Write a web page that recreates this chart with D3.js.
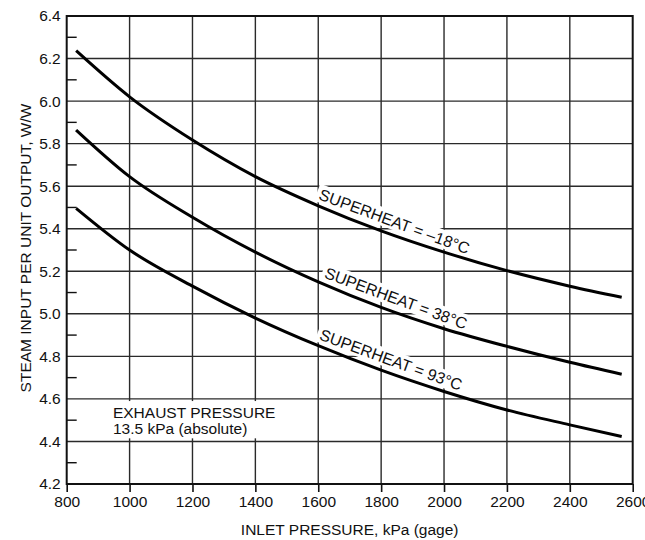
<!DOCTYPE html>
<html>
<head>
<meta charset="utf-8">
<script src="https://cdn.jsdelivr.net/npm/d3@7"></script>
<style>
  body { margin: 0; background: #fff; }
  text { font-family: "Liberation Sans", Arial, sans-serif; fill: #111; }
  .grid line { stroke: #2a2a2a; stroke-width: 1.4; }
  .curve { fill: none; stroke: #000; stroke-width: 3; }
  .axis path, .axis line { stroke: #111; }
</style>
</head>
<body>
<div class="visHolder"></div>
<script>
// inlet pressure, kPa (gage)
const pressure = [830, 1000, 1200, 1400, 1600, 1800, 2000, 2200, 2400, 2565];
// steam input per unit output, W/W
const superheatM18 = [6.237, 6.02, 5.817, 5.645, 5.508, 5.39, 5.29, 5.203, 5.13, 5.078];
const superheat38  = [5.864, 5.645, 5.454, 5.29, 5.15, 5.03, 4.93, 4.847, 4.772, 4.716];
const superheat93  = [5.496, 5.30, 5.13, 4.98, 4.85, 4.735, 4.635, 4.548, 4.478, 4.423];
const seriesLabels = ["SUPERHEAT = \u201318\u00b0C", "SUPERHEAT = 38\u00b0C", "SUPERHEAT = 93\u00b0C"];
const xTicks = [800, 1000, 1200, 1400, 1600, 1800, 2000, 2200, 2400, 2600];
const yTicks = [4.2, 4.4, 4.6, 4.8, 5.0, 5.2, 5.4, 5.6, 5.8, 6.0, 6.2, 6.4];
const yMinorTicks = [4.3, 4.5, 4.7, 4.9, 5.1, 5.3, 5.5, 5.7, 5.9, 6.1, 6.3];

var margin = {top: 16, right: 12.3, bottom: 56, left: 66.7};
var width = 645 - margin.left - margin.right,
    height = 540 - margin.top - margin.bottom;

var svg = d3.select(".visHolder")
  .append("svg")
  .attr("width", 645)
  .attr("height", 540);

var g = svg.append("g")
  .attr("transform", "translate(" + margin.left + "," + margin.top + ")");

var x = d3.scaleLinear().domain([800, 2600]).range([0, width]);
var y = d3.scaleLinear().domain([4.2, 6.4]).range([height, 0]);

// grid
var grid = g.append("g").attr("class", "grid");
grid.selectAll(".vx")
  .data(xTicks.slice(1, -1))
  .enter().append("line")
  .attr("x1", d => x(d)).attr("x2", d => x(d))
  .attr("y1", 0).attr("y2", height);
grid.selectAll(".hy")
  .data(yTicks.slice(1, -1))
  .enter().append("line")
  .attr("x1", 0).attr("x2", width)
  .attr("y1", d => y(d)).attr("y2", d => y(d));

// minor ticks on the left axis
g.selectAll(".minor")
  .data(yMinorTicks)
  .enter().append("line")
  .attr("x1", 0).attr("x2", 10)
  .attr("y1", d => y(d)).attr("y2", d => y(d))
  .attr("stroke", "#111")
  .attr("stroke-width", 1.4);

// x axis
var xAxis = d3.axisBottom(x).tickValues(xTicks).tickSize(8).tickPadding(4)
  .tickSizeOuter(0).tickFormat(d3.format("d"));
var gx = g.append("g")
  .attr("class", "axis")
  .attr("transform", "translate(0," + height + ")")
  .call(xAxis);
gx.select(".domain").remove();
gx.selectAll("line").attr("stroke-width", 1.6);
gx.selectAll("text").style("font-size", "15.5px").attr("fill", "#111");

// y axis
var yAxis = d3.axisLeft(y).tickValues(yTicks).tickSize(0).tickPadding(6).tickFormat(d3.format(".1f"));
var gy = g.append("g")
  .attr("class", "axis")
  .call(yAxis);
gy.select(".domain").remove();
gy.selectAll("text").style("font-size", "15.5px").attr("fill", "#111");

// note (white box hides the grid behind it)
var noteG = g.append("g");
var note = noteG.append("text")
  .attr("x", x(947))
  .attr("y", y(4.51))
  .style("font-size", "15.5px");
note.append("tspan").text("EXHAUST PRESSURE");
note.append("tspan")
  .attr("x", x(947))
  .attr("dy", "1.05em")
  .text("13.5 kPa (absolute)");
var nb = note.node().getBBox();
noteG.insert("rect", "text")
  .attr("x", nb.x - 3)
  .attr("y", nb.y - 3)
  .attr("width", nb.width + 6)
  .attr("height", nb.height + 4)
  .attr("fill", "#fff");

// frame
g.append("rect")
  .attr("width", width)
  .attr("height", height)
  .attr("fill", "none")
  .attr("stroke", "#111")
  .attr("stroke-width", 2);

// curves
var series = [superheatM18, superheat38, superheat93];
var line = d3.line()
  .x(d => x(d[0]))
  .y(d => y(d[1]))
  .curve(d3.curveMonotoneX);

function valueAt(vals, p) {
  var i = d3.bisectLeft(pressure, p);
  if (i <= 0) return vals[0];
  if (i >= pressure.length) return vals[vals.length - 1];
  var t = (p - pressure[i - 1]) / (pressure[i] - pressure[i - 1]);
  return vals[i - 1] + t * (vals[i] - vals[i - 1]);
}

var labelStart = [1592, 1610, 1594];

series.forEach(function (vals, k) {
  // label first so the white box cuts the grid, curve drawn on top
  var p0 = labelStart[k];
  var x0 = x(p0), y0 = y(valueAt(vals, p0));
  var x1 = x(p0 + 400), y1 = y(valueAt(vals, p0 + 400));
  var angle = Math.atan2(y1 - y0, x1 - x0) * 180 / Math.PI;

  var lg = g.append("g")
    .attr("transform", "translate(" + x0 + "," + y0 + ") rotate(" + angle + ")");
  var t = lg.append("text")
    .attr("x", 0)
    .attr("y", -6)
    .style("font-size", "16px")
    .text(seriesLabels[k]);
  var bb = t.node().getBBox();
  lg.insert("rect", "text")
    .attr("x", bb.x - 3)
    .attr("y", bb.y - 1)
    .attr("width", bb.width + 6)
    .attr("height", bb.height + 1)
    .attr("fill", "#fff");

  g.append("path")
    .datum(pressure.map((p, i) => [p, vals[i]]))
    .attr("class", "curve")
    .attr("d", line);
});

// axis titles
svg.append("text")
  .attr("x", margin.left + width / 2)
  .attr("y", 535)
  .attr("text-anchor", "middle")
  .style("font-size", "15.5px")
  .text("INLET PRESSURE, kPa (gage)");

svg.append("text")
  .attr("transform", "rotate(-90)")
  .attr("x", -248)
  .attr("y", 31)
  .attr("text-anchor", "middle")
  .style("font-size", "15.5px")
  .text("STEAM INPUT PER UNIT OUTPUT, W/W");
</script>
</body>
</html>
